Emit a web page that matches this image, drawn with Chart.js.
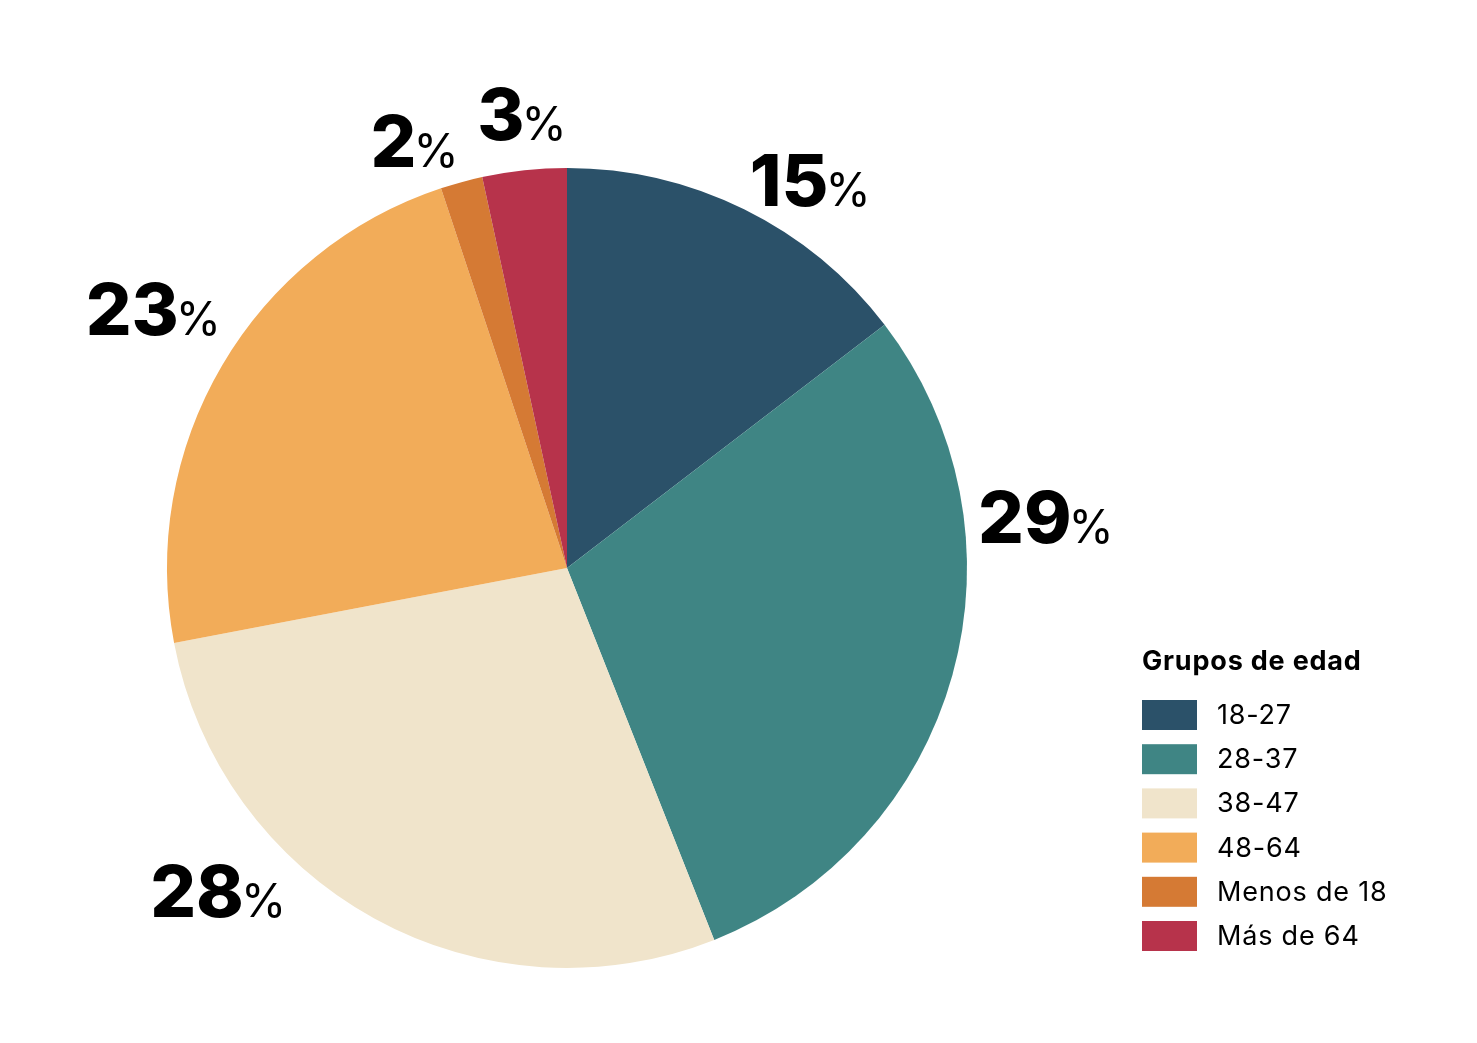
<!DOCTYPE html>
<html>
<head>
<meta charset="utf-8">
<script src="https://cdn.jsdelivr.net/npm/chart.js@4.4.1/dist/chart.umd.min.js"></script>
<style>
  html, body { margin: 0; padding: 0; background: #ffffff; }
  canvas { display: block; }
</style>
</head>
<body>
<canvas id="edadChart" width="1477" height="1043"></canvas>
<script>
// Data
const groups = ['18-27', '28-37', '38-47', '48-64', 'Menos de 18', 'Más de 64'];
const shares = [14.6, 29.4, 28.0, 22.9, 1.7, 3.4];
const shareLabels = ['15', '29', '28', '23', '2', '3'];
const legendTitle = 'Grupos de edad';

// Colours
const colors = ['#2b5169', '#3f8584', '#f0e4cb', '#f2ac59', '#d57a34', '#b7334b'];

// Where each percentage sits: angle (deg, clockwise from top) and distance from centre
const labelSpots = [
    [32.3, 458],
    [84, 483],
    [227, 475],
    [302, 486],
    [340.5, 452],
    [354.5, 455]
];

const FONT = 'Inter, "Noto Sans", sans-serif';

// Percent labels outside the pie
const percentLabels = {
    id: 'percentLabels',
    afterDatasetsDraw(chart) {
        const ctx = chart.ctx;
        const arc = chart.getDatasetMeta(0).data[0];
        const cx = arc.x, cy = arc.y;
        ctx.save();
        ctx.fillStyle = '#000';
        ctx.textBaseline = 'alphabetic';
        ctx.textAlign = 'left';
        shareLabels.forEach((txt, i) => {
            const a = labelSpots[i][0] * Math.PI / 180;
            const d = labelSpots[i][1];
            const px = cx + Math.sin(a) * d;
            const py = cy - Math.cos(a) * d;
            ctx.font = '800 72px ' + FONT;
            const w1 = ctx.measureText(txt).width;
            ctx.font = '400 46px ' + FONT;
            const w2 = ctx.measureText('%').width;
            const x0 = px - (w1 + w2) / 2;
            const base = py + 25;
            ctx.font = '800 72px ' + FONT;
            ctx.fillText(txt, x0, base);
            ctx.font = '400 46px ' + FONT;
            ctx.fillText('%', x0 + w1 - 3, base);
        });
        ctx.restore();
    }
};

// Legend box at the lower right
const sideLegend = {
    id: 'sideLegend',
    afterDraw(chart) {
        const ctx = chart.ctx;
        const x = 1142;
        ctx.save();
        ctx.fillStyle = '#000';
        ctx.textAlign = 'left';
        ctx.textBaseline = 'alphabetic';
        ctx.letterSpacing = '0.8px';
        ctx.font = '700 27px ' + FONT;
        ctx.fillText(legendTitle, x, 670);
        chart.data.labels.forEach((lab, i) => {
            const y = 700 + i * 44.2;
            ctx.fillStyle = chart.data.datasets[0].backgroundColor[i];
            ctx.fillRect(x, y, 55, 30);
            ctx.fillStyle = '#000';
            ctx.font = '400 27px ' + FONT;
            ctx.fillText(lab, 1217, y + 24);
        });
        ctx.restore();
    }
};

document.addEventListener('DOMContentLoaded', function() {
    const el = document.getElementById('edadChart');
    new Chart(el, {
        type: 'pie',
        data: {
            labels: groups,
            datasets: [{
                data: shares,
                backgroundColor: colors,
                borderWidth: 0
            }]
        },
        options: {
            responsive: false,
            animation: false,
            layout: {
                padding: { left: 167, right: 510, top: 168, bottom: 75 }
            },
            plugins: {
                legend: { display: false },
                tooltip: { enabled: false }
            }
        },
        plugins: [percentLabels, sideLegend]
    });
});
</script>
</body>
</html>
